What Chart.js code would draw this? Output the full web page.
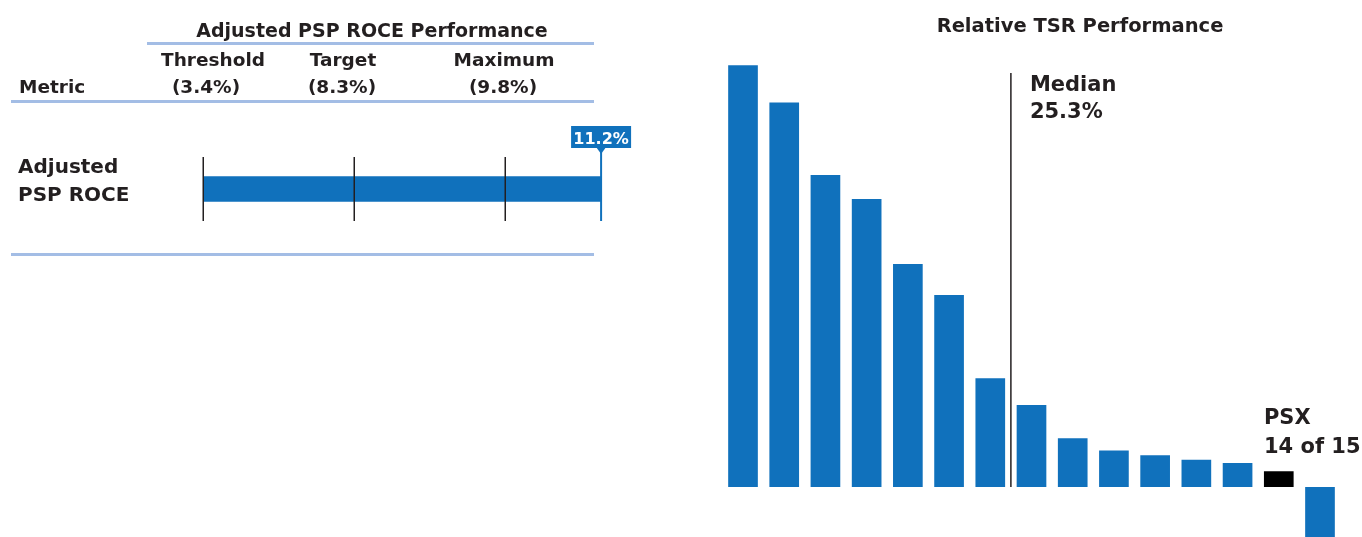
<!doctype html>
<html lang="en">
<head>
  <meta charset="utf-8">
  <title>PSP ROCE and Relative TSR Performance</title>
  <script src="https://cdn.jsdelivr.net/npm/chart.js"></script>
  <style>
    body { margin: 0; width: 1362px; height: 537px; overflow: hidden; background: #fff; }
    canvas { position: absolute; top: 0; }
    #roce { left: 0; }
    #tsr { left: 680px; }
  </style>
</head>
<body>
  <canvas id="roce" width="680" height="270"></canvas>
  <canvas id="tsr" width="682" height="537"></canvas>

<script>
// ROCE panel
var levelLabels = ['Threshold', 'Target', 'Maximum'];
var levelValues = [3.4, 8.3, 9.8];
var scaleEnd = 12.0;            // right end of the performance axis
var roceLabel = ['Adjusted', 'PSP ROCE'];
var roceValue = 11.2;

// TSR panel
var peerLabels = ['1', '2', '3', '4', '5', '6', '7', '8', '9', '10', '11', '12', '13', 'PSX', '15'];
var tsrValues = [130.2, 118.7, 96.3, 88.9, 68.8, 59.3, 33.6, 25.3, 15.1, 11.3, 9.8, 8.4, 7.4, 4.9, -20];
var psxIndex = 13;
var tsrMedian = 25.3;
var medianAfter = 6;            // median line sits between peer 7 and peer 8

var BLUE = '#1071bc';
var RULE = '#a3bde5';
var INK = '#231f20';
var FONT = '"DejaVu Sans", sans-serif';

// each performance level is one equal step on the axis
function levelPos(v) {
  var stops = levelValues.concat([scaleEnd]);
  for (var i = 0; i < stops.length - 1; i++) {
    if (v <= stops[i + 1]) {
      return i + (v - stops[i]) / (stops[i + 1] - stops[i]);
    }
  }
  return stops.length - 1;
}

function rule(ctx, x1, x2, y) {
  ctx.save();
  ctx.strokeStyle = RULE;
  ctx.lineWidth = 3;
  ctx.beginPath();
  ctx.moveTo(x1, y);
  ctx.lineTo(x2, y);
  ctx.stroke();
  ctx.restore();
}

var roceDecor = {
  id: 'roceDecor',
  afterDatasetsDraw: function(chart) {
    var ctx = chart.ctx;
    var area = chart.chartArea;
    var xs = chart.scales.x;

    // header table
    ctx.save();
    ctx.fillStyle = INK;
    ctx.font = 'bold 19px ' + FONT;
    ctx.textAlign = 'center';
    ctx.textBaseline = 'alphabetic';
    ctx.fillText('Adjusted PSP ROCE Performance', 372, 37);
    ctx.font = 'bold 18.5px ' + FONT;
    var colX = [213, 343, 504];
    var valX = [206, 342, 503];
    for (var i = 0; i < levelLabels.length; i++) {
      ctx.fillText(levelLabels[i], colX[i], 66);
      ctx.fillText('(' + levelValues[i].toFixed(1) + '%)', valX[i], 93);
    }
    ctx.textAlign = 'left';
    ctx.fillText('Metric', 19, 93);
    ctx.font = 'bold 20px ' + FONT;
    ctx.fillText(roceLabel[0], 18, 173);
    ctx.fillText(roceLabel[1], 18, 201);
    ctx.restore();

    rule(ctx, 147, 594, 43.5);
    rule(ctx, 11, 594, 101.5);
    rule(ctx, 11, 594, 254.5);

    // level ticks
    ctx.save();
    ctx.strokeStyle = INK;
    ctx.lineWidth = 1.5;
    for (var j = 0; j < levelValues.length; j++) {
      var x = Math.round(xs.getPixelForValue(levelPos(levelValues[j]))) + 0.25;
      ctx.beginPath();
      ctx.moveTo(x, area.top);
      ctx.lineTo(x, area.bottom);
      ctx.stroke();
    }
    ctx.restore();

    // result marker
    var mx = xs.getPixelForValue(levelPos(roceValue));
    ctx.save();
    ctx.strokeStyle = BLUE;
    ctx.fillStyle = BLUE;
    ctx.lineWidth = 2;
    ctx.beginPath();
    ctx.moveTo(mx, 152);
    ctx.lineTo(mx, area.bottom);
    ctx.stroke();
    ctx.fillRect(mx - 30, 126, 60, 22);
    ctx.beginPath();
    ctx.moveTo(mx - 5, 147);
    ctx.lineTo(mx + 5, 147);
    ctx.lineTo(mx, 154);
    ctx.closePath();
    ctx.fill();
    ctx.fillStyle = '#fff';
    ctx.font = 'bold 16px ' + FONT;
    ctx.textAlign = 'center';
    ctx.fillText(roceValue.toFixed(1) + '%', mx, 144);
    ctx.restore();
  }
};

new Chart(document.getElementById('roce'), {
  type: 'bar',
  data: {
    labels: [roceLabel.join(' ')],
    datasets: [{
      data: [[levelPos(levelValues[0]), levelPos(roceValue)]],
      backgroundColor: BLUE,
      barThickness: 25,
      borderSkipped: false
    }]
  },
  options: {
    indexAxis: 'y',
    responsive: false,
    animation: false,
    devicePixelRatio: 1,
    layout: { padding: { left: 203, right: 24, top: 157, bottom: 49 } },
    scales: {
      x: { type: 'linear', min: 0, max: levelValues.length, display: false },
      y: { display: false }
    },
    plugins: { legend: { display: false }, tooltip: { enabled: false } }
  },
  plugins: [roceDecor]
});

var tsrDecor = {
  id: 'tsrDecor',
  afterDatasetsDraw: function(chart) {
    var ctx = chart.ctx;
    var xs = chart.scales.x;
    var ys = chart.scales.y;
    var bars = chart.getDatasetMeta(0).data;

    ctx.save();
    ctx.fillStyle = INK;
    ctx.textBaseline = 'alphabetic';
    ctx.font = 'bold 19.5px ' + FONT;
    ctx.textAlign = 'center';
    ctx.fillText('Relative TSR Performance', 400, 32);

    // median line
    var lx = (xs.getPixelForValue(medianAfter) + xs.getPixelForValue(medianAfter + 1)) / 2;
    ctx.strokeStyle = INK;
    ctx.lineWidth = 1.5;
    ctx.beginPath();
    ctx.moveTo(lx, 73);
    ctx.lineTo(lx, ys.getPixelForValue(0));
    ctx.stroke();
    ctx.textAlign = 'left';
    ctx.font = 'bold 21px ' + FONT;
    ctx.fillText('Median', lx + 19, 91);
    ctx.fillText(tsrMedian.toFixed(1) + '%', lx + 19, 118);

    // PSX label
    var b = bars[psxIndex];
    var px = b.x - b.width / 2;
    ctx.fillText(peerLabels[psxIndex], px, b.y - 47);
    ctx.fillText((psxIndex + 1) + ' of ' + tsrValues.length, px, b.y - 18);
    ctx.restore();
  }
};

new Chart(document.getElementById('tsr'), {
  type: 'bar',
  data: {
    labels: peerLabels,
    datasets: [{
      data: tsrValues,
      backgroundColor: tsrValues.map(function(v, i) { return i === psxIndex ? '#000' : BLUE; }),
      categoryPercentage: 1,
      barPercentage: 0.72
    }]
  },
  options: {
    responsive: false,
    animation: false,
    devicePixelRatio: 1,
    layout: { padding: { left: 42.4, right: 21.4, top: 0, bottom: 0 } },
    scales: {
      x: { display: false },
      y: { min: -15.4, max: 150.3, display: false }
    },
    plugins: { legend: { display: false }, tooltip: { enabled: false } }
  },
  plugins: [tsrDecor]
});
</script>
</body>
</html>
